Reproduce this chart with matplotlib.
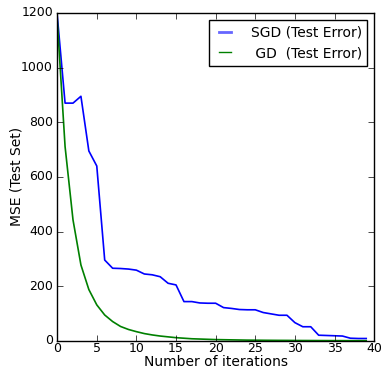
import matplotlib

matplotlib.use("Agg")
import matplotlib.pyplot as plt

plt.style.use("classic")

iterations = list(range(40))
sgd_error = [
    1195, 870, 870, 895, 695, 640, 296, 266, 265, 263,
    259, 245, 242, 235, 211, 205, 144, 144, 139, 138,
    138, 122, 119, 115, 114, 114, 104, 99, 94, 94,
    67, 52, 52, 21, 20, 19, 18, 10, 9, 9,
]
gd_error = [
    1180, 711, 443, 278, 188, 132, 95, 71, 53, 42,
    34, 27, 22, 18, 15, 12, 10, 8, 7, 6,
    5, 4.5, 4, 3.5, 3, 2.8, 2.5, 2.3, 2.1, 2,
    1.8, 1.6, 1.5, 1.4, 1.3, 1.2, 1.1, 1, 1, 1,
]

fig = plt.figure(figsize=(3.81, 3.69), dpi=100)
ax = fig.add_axes([0.150, 0.076, 0.832, 0.889])

ax.plot(iterations, sgd_error, color="blue", linewidth=1.2, label="SGD (Test Error)")
ax.plot(iterations, gd_error, color="green", linewidth=1.2, label=" GD  (Test Error)")

ax.set_xlim(0, 40)
ax.set_ylim(0, 1200)
ax.tick_params(axis="x", labelsize=9, pad=1)
ax.tick_params(axis="y", labelsize=9, pad=3)
ax.set_xlabel("Number of iterations", fontsize=10, labelpad=0)
ax.set_ylabel("MSE (Test Set)", fontsize=10)
ax.yaxis.set_label_coords(-0.107, 0.5)

leg = ax.legend(
    loc="upper right",
    fontsize=10,
    handlelength=1.5,
    handletextpad=1.1,
    borderpad=0.4,
)
leg.get_lines()[0].set_linewidth(2)
leg.get_lines()[0].set_alpha(0.6)
leg.get_lines()[1].set_linewidth(1)

fig.savefig("out.png", dpi=100)
